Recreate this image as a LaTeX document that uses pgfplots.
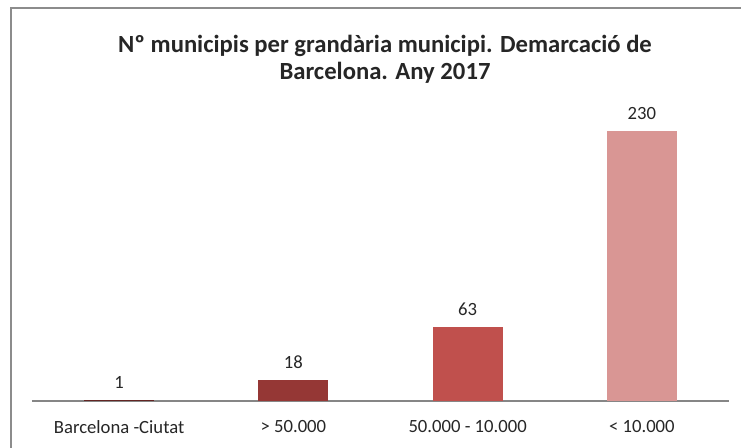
\documentclass[border=0pt]{standalone}
\usepackage{pgfplots}
\pgfplotsset{compat=1.18}
\usepackage{fontspec}
\setmainfont{Carlito}
\definecolor{c1}{HTML}{632523}
\definecolor{c2}{HTML}{953735}
\definecolor{c3}{HTML}{C0504D}
\definecolor{c4}{HTML}{D99694}
\definecolor{txt}{HTML}{262626}
\definecolor{frame}{HTML}{8C8C8C}
\definecolor{axl}{HTML}{868686}
\begin{document}
\begin{tikzpicture}[x=0.75pt,y=0.75pt]
\path[use as bounding box] (0,0) rectangle (741,447);
\draw[frame,line width=1.2pt] (11,-5) -- (11,439) -- (750,439);
\node[font=\bfseries\fontsize{18.5}{20.5}\selectfont,text=txt,align=center] at (385,388) {Nº municipis per grandària municipi. Demarcació de\\Barcelona. Any 2017};
\begin{axis}[
  at={(24pt,34.5pt)},
  anchor=south west,
  scale only axis,
  width=697*0.75pt,
  height=293*0.75pt,
  xmin=-0.5, xmax=3.5,
  ymin=0, ymax=250,
  axis y line=none,
  axis x line*=bottom,
  x axis line style={axl,line width=0.9pt,-},
  xtick={0,1,2,3},
  xticklabels={Barcelona -Ciutat, > 50.000, 50.000 - 10.000, < 10.000},
  xtick style={draw=none},
  xticklabel style={font=\fontsize{14}{16}\selectfont,text=txt,yshift=-7pt},
  ybar,
  bar width=70*0.75pt,
  bar shift=0pt,
  nodes near coords,
  /pgf/number format/assume math mode=true,
  nodes near coords style={font=\fontsize{14}{16}\selectfont,text=txt,yshift=5pt},
  clip=false,
]
\addplot[fill=c1,draw=none] coordinates {(0,1)};
\addplot[fill=c2,draw=none] coordinates {(1,18)};
\addplot[fill=c3,draw=none] coordinates {(2,63)};
\addplot[fill=c4,draw=none] coordinates {(3,230)};
\end{axis}
\end{tikzpicture}
\end{document}
